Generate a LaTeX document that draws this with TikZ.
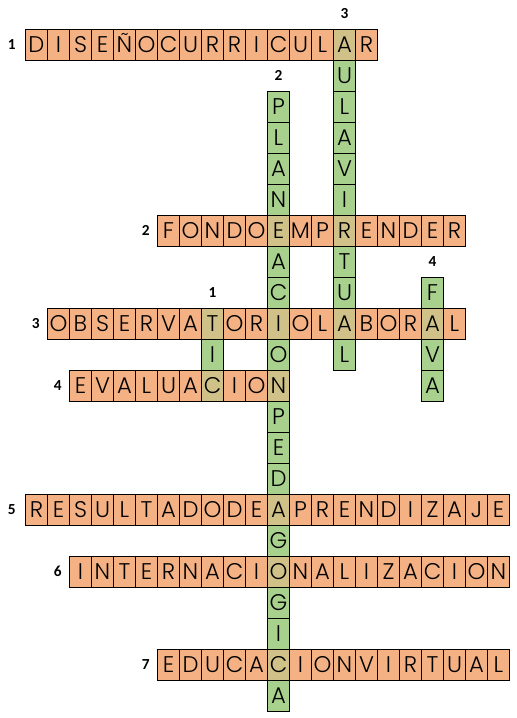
\documentclass[tikz,border=0pt]{standalone}
\usepackage{fontspec}
\setmainfont{Poppins Light}
\newfontfamily\numfont{Carlito}
\usetikzlibrary{positioning}
\definecolor{rowfill}{HTML}{F4B183}
\definecolor{colfill}{HTML}{A9D18E}
\colorlet{bothfill}{rowfill!50!colfill}
\tikzstyle{cell}=[draw, line width=0.75pt, inner sep=0pt, minimum width=16.5pt, minimum height=23.25pt, text height=11.8pt, text depth=0pt, font=\fontsize{17}{17}\selectfont]
\tikzstyle{num}=[inner sep=0pt, minimum width=16.5pt, minimum height=23.25pt, font=\numfont\bfseries\fontsize{11.5}{11.5}\selectfont]

\begin{document}
\begin{tikzpicture}[x=16.5pt,y=-23.25pt]
		\useasboundingbox (-1.159,-0.945) rectangle (22.295,22.216);
		% fondos
		\fill[rowfill] (0,0) rectangle ++(16,1);
		\fill[rowfill] (6,6) rectangle ++(14,1);
		\fill[rowfill] (1,9) rectangle ++(19,1);
		\fill[rowfill] (2,11) rectangle ++(10,1);
		\fill[rowfill] (0,15) rectangle ++(22,1);
		\fill[rowfill] (2,17) rectangle ++(20,1);
		\fill[rowfill] (6,20) rectangle ++(16,1);
		\fill[colfill] (14,0) rectangle ++(1,11);
		\fill[colfill] (11,2) rectangle ++(1,20);
		\fill[colfill] (8,9) rectangle ++(1,3);
		\fill[colfill] (18,8) rectangle ++(1,4);
		\foreach \c/\r in {14/0,11/6,14/6,8/9,11/9,14/9,18/9,8/11,11/11,11/15,11/17,11/20}
			\fill[bothfill] (\c,\r) rectangle ++(1,1);
		% horizontales
		\foreach \l [count=\i from 0] in {D,I,S,E,Ñ,O,C,U,R,R,I,C,U,L,A,R}
			\node[cell] (h1-\i) at (\i+0.5,0.5) {\l};
		\foreach \l [count=\i from 0] in {F,O,N,D,O,E,M,P,R,E,N,D,E,R}
			\node[cell] (h2-\i) at (\i+6.5,6.5) {\l};
		\foreach \l [count=\i from 0] in {O,B,S,E,R,V,A,T,O,R,I,O,L,A,B,O,R,A,L}
			\node[cell] (h3-\i) at (\i+1.5,9.5) {\l};
		\foreach \l [count=\i from 0] in {E,V,A,L,U,A,C,I,O,N}
			\node[cell] (h4-\i) at (\i+2.5,11.5) {\l};
		\foreach \l [count=\i from 0] in {R,E,S,U,L,T,A,D,O,D,E,A,P,R,E,N,D,I,Z,A,J,E}
			\node[cell] (h5-\i) at (\i+0.5,15.5) {\l};
		\foreach \l [count=\i from 0] in {I,N,T,E,R,N,A,C,I,O,N,A,L,I,Z,A,C,I,O,N}
			\node[cell] (h6-\i) at (\i+2.5,17.5) {\l};
		\foreach \l [count=\i from 0] in {E,D,U,C,A,C,I,O,N,V,I,R,T,U,A,L}
			\node[cell] (h7-\i) at (\i+6.5,20.5) {\l};
		% verticales (cruces en blanco)
		\node[cell] (v1-1) at (8.5,10.5) {I};
		\foreach \l [count=\i from 0] in {P,L,A,N,,A,C,,O,,P,E,D,,G,,G,I,,A}
			\node[cell] (v2-\i) at (11.5,\i+2.5) {\l};
		\foreach \l [count=\i from 0] in {,U,L,A,V,I,,T,U,,L}
			\node[cell] (v3-\i) at (14.5,\i+0.5) {\l};
		\foreach \l [count=\i from 0] in {F,,V,A}
			\node[cell] (v4-\i) at (18.5,\i+8.5) {\l};
		% numeros
		\node[num, left=1.5pt of h1-0] (n1) {1};
		\node[num, left=0pt of h2-0] (n2) {2};
		\node[num, left=0pt of h3-0] (n3) {3};
		\node[num, left=0pt of h4-0] (n4) {4};
		\node[num, left=1.5pt of h5-0] (n5) {5};
		\node[num, left=0pt of h6-0] (n6) {6};
		\node[num, left=0pt of h7-0] (n7) {7};
		\node[num, above=0pt of h3-7] (m1) {1};
		\node[num, above=0pt of v2-0] (m2) {2};
		\node[num, above=0pt of h1-14] (m3) {3};
		\node[num, above=0pt of v4-0] (m4) {4};
		\end{tikzpicture}
\end{document}
